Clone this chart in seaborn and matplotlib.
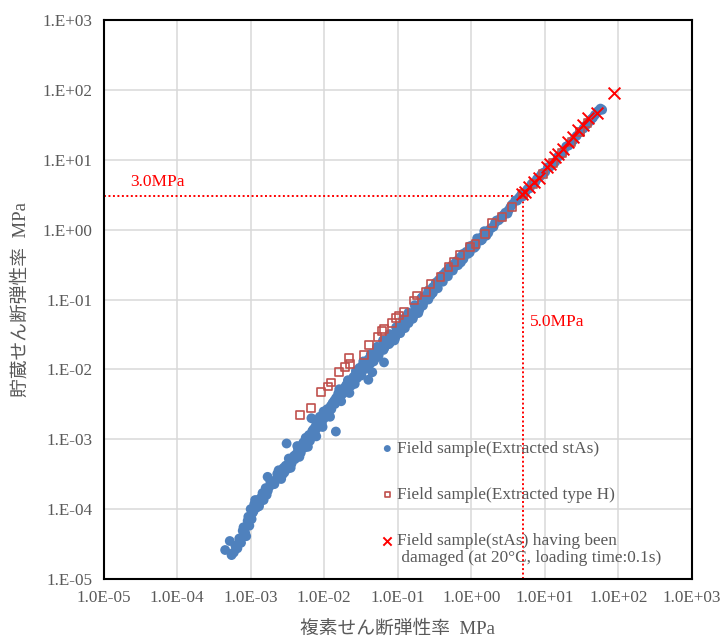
import numpy as np
import pandas as pd
import matplotlib
matplotlib.use("Agg")
import matplotlib.pyplot as plt
import seaborn as sns
from matplotlib.ticker import FixedLocator, FixedFormatter, NullLocator

# ---- data: complex shear modulus (x) vs storage shear modulus (y), MPa ----
stas_x = [4.5e-4, 5.2e-4, 5.5e-4, 5.9e-4, 6.6e-4, 7.8e-4, 8.7e-4, 8.0e-4, 9.1e-4, 9.6e-4,
          1.07e-3, 1.0e-3, 1.12e-3, 1.2e-3, 1.32e-3, 1.39e-3, 1.25e-3, 1.54e-3, 1.71e-3, 1.6e-3,
          1.7e-3, 2.1e-3, 2.33e-3, 2.0e-3, 2.87e-3, 2.6e-3, 3.36e-3, 3.08e-3, 3.0e-3, 3.4e-3,
          3.9e-3, 4.6e-3, 4.2e-3, 5.4e-3, 5.0e-3, 6.6e-3, 6.0e-3, 6.9e-3, 7.7e-3, 7.2e-3,
          6.7e-3, 9.0e-3, 8.3e-3, 1.05e-2, 9.8e-3, 1.23e-2, 1.44e-2, 1.37e-2, 1.3e-2, 1.68e-2,
          1.55e-2, 2.07e-2, 1.77e-2, 2.18e-2, 2.0e-2, 3.98e-2, 2.69e-2, 2.5e-2, 3.3e-2, 3.0e-2,
          4.5e-2, 4.0e-2, 4.5e-2, 5.6e-2, 5.0e-2, 6.9e-2, 6.5e-2, 6.2e-2, 8.4e-2, 7.5e-2,
          0.104, 0.095, 0.128, 0.115, 0.157, 0.145, 0.194, 0.128, 0.175, 0.215,
          0.265, 0.24, 0.327, 0.30, 0.40, 0.36, 0.49, 0.45, 0.61, 0.55,
          0.75, 0.70, 0.92, 0.85, 1.14, 1.05, 1.40, 1.30, 1.72, 1.26,
          2.35, 2.1, 3.21, 2.9, 3.96, 3.6, 5.41, 4.8, 7.4, 6.6,
          10.1, 9.0, 13.8, 12.5, 17.9, 16.0, 24.4, 22.0, 33.4, 30.0,
          42.8, 48.0, 53.0, 57.0,
          6.2e-4, 7.0e-4, 7.4e-4, 8.4e-4, 9.3e-4, 1.03e-3, 1.1e-3, 1.15e-3, 1.3e-3, 1.45e-3,
          1.5e-3, 1.65e-3, 1.8e-3, 1.85e-3, 2.2e-3, 2.3e-3, 2.5e-3, 2.7e-3, 2.8e-3,
          3.2e-3, 3.6e-3, 3.7e-3, 4.0e-3, 4.4e-3, 4.8e-3, 5.2e-3, 5.7e-3, 6.2e-3, 6.4e-3,
          7.0e-3, 7.5e-3, 7.9e-3, 8.0e-3, 8.7e-3, 9.3e-3, 1.0e-2, 1.1e-2, 1.15e-2,
          1.25e-2, 1.4e-2, 1.45e-2, 1.6e-2, 1.85e-2, 1.9e-2, 2.3e-2, 2.4e-2, 2.8e-2, 2.9e-2,
          3.5e-2, 3.7e-2, 4.2e-2, 4.8e-2, 5.3e-2, 5.8e-2, 6.6e-2, 7.2e-2, 7.8e-2, 8.8e-2,
          9.2e-2,
          0.11, 0.12, 0.135, 0.15, 0.165, 0.18, 0.20, 0.23, 0.25, 0.28,
          0.31, 0.34, 0.38, 0.42, 0.47, 0.52, 0.58, 0.65, 0.72, 0.80,
          0.90, 1.0, 1.1, 1.2, 1.35, 1.5, 1.6, 1.85, 2.0,
          2.2, 2.5, 2.7, 3.1, 3.4, 4.2, 4.5, 5.0, 5.8, 6.2,
          7.0, 7.8, 8.5, 9.5, 11.0, 11.8, 15.0, 19.5, 21.0, 27.0,
          36.0, 40.0, 45.0, 60.0,
          1.2e-2, 1.7e-2, 2.2e-2, 2.6e-2, 3.2e-2, 3.9e-2, 4.7e-2, 5.5e-2, 6.4e-2, 7.6e-2,
          9.0e-2, 0.108, 0.125, 0.14, 0.16, 0.19, 0.22, 0.26, 0.30, 0.35,
          0.41, 0.48, 0.56, 0.66, 0.78, 0.95, 1.15, 1.4, 1.7,
          1.6e-2, 2.1e-2, 2.7e-2, 3.4e-2, 4.3e-2, 5.2e-2, 6.3e-2, 7.7e-2, 9.5e-2, 0.118,
          0.14, 0.17, 0.21, 0.26, 0.33, 0.40, 0.50, 0.62, 0.77, 0.96,
          1.2, 1.5,
          2.4e-3, 3.3e-3, 4.3e-3, 5.6e-3, 2.6e-3, 3.5e-3, 4.6e-3, 6.0e-3, 7.8e-3, 9.5e-3]
stas_y = [2.6e-5, 3.5e-5, 2.2e-5, 2.4e-5, 2.75e-5, 4.9e-5, 4.1e-5, 5.5e-5, 6.8e-5, 5.8e-5,
          8.9e-5, 1.0e-4, 1.18e-4, 1.05e-4, 1.24e-4, 1.47e-4, 1.35e-4, 1.55e-4, 1.83e-4, 2.0e-4,
          2.9e-4, 2.28e-4, 2.83e-4, 2.5e-4, 3.34e-4, 3.6e-4, 4.0e-4, 8.7e-4, 4.2e-4, 4.9e-4,
          5.8e-4, 6.8e-4, 6.2e-4, 7.6e-4, 8.2e-4, 1.06e-3, 1.0e-3, 1.32e-3, 1.56e-3, 1.4e-3,
          2.0e-3, 1.95e-3, 1.8e-3, 2.3e-3, 2.5e-3, 3.0e-3, 1.29e-3, 3.56e-3, 3.3e-3, 4.2e-3,
          4.5e-3, 4.96e-3, 4.45e-3, 6.5e-3, 6.0e-3, 7.1e-3, 8.6e-3, 7.8e-3, 1.13e-2, 1.05e-2,
          1.49e-2, 1.4e-2, 9.1e-3, 1.86e-2, 1.7e-2, 2.32e-2, 1.26e-2, 2.2e-2, 2.88e-2, 2.7e-2,
          3.6e-2, 3.4e-2, 4.5e-2, 4.3e-2, 5.6e-2, 5.4e-2, 6.95e-2, 5.6e-2, 7.8e-2, 0.108,
          0.127, 0.10, 0.168, 0.15, 0.209, 0.19, 0.26, 0.25, 0.325, 0.31,
          0.38, 0.40, 0.50, 0.48, 0.63, 0.60, 0.78, 0.75, 0.975, 0.70,
          1.36, 1.25, 1.89, 1.75, 2.62, 2.3, 3.45, 3.2, 4.8, 4.5,
          6.7, 6.2, 9.3, 8.6, 13.0, 11.5, 19.0, 17.0, 28.0, 25.0,
          38.0, 44.0, 50.0, 54.0,
          3.0e-5, 3.8e-5, 3.3e-5, 4.6e-5, 7.8e-5, 7.2e-5, 9.5e-5, 1.35e-4, 1.1e-4, 1.7e-4,
          1.35e-4, 1.6e-4, 2.1e-4, 2.5e-4, 2.6e-4, 3.2e-4, 3.0e-4, 3.1e-4, 3.9e-4,
          3.8e-4, 4.5e-4, 5.4e-4, 5.2e-4, 7.4e-4, 6.4e-4, 9.0e-4, 8.5e-4, 1.15e-3, 9.5e-4,
          1.2e-3, 1.3e-3, 1.7e-3, 1.45e-3, 2.1e-3, 1.7e-3, 2.0e-3, 2.7e-3, 2.3e-3,
          2.7e-3, 3.2e-3, 3.9e-3, 3.7e-3, 4.8e-3, 5.5e-3, 5.8e-3, 7.0e-3, 7.5e-3, 9.3e-3,
          1.0e-2, 1.25e-2, 1.2e-2, 1.55e-2, 1.5e-2, 2.0e-2, 2.05e-2, 2.5e-2, 2.4e-2, 3.1e-2,
          2.8e-2,
          3.7e-2, 4.8e-2, 4.6e-2, 6.1e-2, 5.9e-2, 7.4e-2, 7.6e-2, 0.095, 0.118, 0.115,
          0.14, 0.155, 0.18, 0.23, 0.22, 0.28, 0.29, 0.36, 0.34, 0.44,
          0.45, 0.56, 0.55, 0.68, 0.70, 0.85, 0.82, 1.05, 1.1,
          1.35, 1.45, 1.6, 1.7, 2.1, 2.6, 2.9, 3.0, 3.8, 3.9,
          4.6, 5.3, 5.7, 6.5, 7.8, 8.0, 11.0, 15.5, 16.0, 22.0,
          31.0, 35.0, 40.0, 52.0,
          2.1e-3, 3.5e-3, 4.6e-3, 6.2e-3, 8.2e-3, 1.05e-2, 1.3e-2, 1.6e-2, 1.9e-2, 2.3e-2,
          2.6e-2, 3.3e-2, 3.9e-2, 4.6e-2, 5.3e-2, 6.4e-2, 8.2e-2, 0.10, 0.125, 0.145,
          0.18, 0.215, 0.26, 0.31, 0.38, 0.47, 0.58, 0.72, 0.90,
          5.2e-3, 7.0e-3, 9.5e-3, 1.3e-2, 1.65e-2, 2.1e-2, 2.6e-2, 3.2e-2, 4.0e-2, 5.2e-2,
          6.5e-2, 8.3e-2, 0.105, 0.135, 0.175, 0.22, 0.285, 0.35, 0.45, 0.58,
          0.75, 0.95,
          3.6e-4, 5.3e-4, 8.0e-4, 1.05e-3, 2.7e-4, 3.9e-4, 5.6e-4, 7.8e-4, 1.1e-3, 1.5e-3]

typeh_x = [4.7e-3, 6.6e-3, 9.0e-3, 1.13e-2, 1.23e-2, 1.6e-2, 1.9e-2, 2.25e-2, 2.18e-2, 3.5e-2,
           4.1e-2, 5.3e-2, 6.05e-2, 6.5e-2, 8.4e-2, 9.5e-2, 0.105, 0.121, 0.166, 0.184,
           0.239, 0.279, 0.381, 0.49, 0.578, 0.71, 0.97, 1.14, 1.52, 1.89,
           2.58, 3.53, 5.0, 7.0, 9.5, 13.0, 17.0, 23.0, 30.0, 38.0]
typeh_y = [2.2e-3, 2.8e-3, 4.8e-3, 5.7e-3, 6.5e-3, 9.1e-3, 1.07e-2, 1.2e-2, 1.46e-2, 1.61e-2,
           2.24e-2, 2.88e-2, 3.5e-2, 3.8e-2, 4.6e-2, 5.5e-2, 5.9e-2, 6.7e-2, 9.7e-2, 0.114,
           0.127, 0.168, 0.209, 0.29, 0.343, 0.43, 0.56, 0.63, 0.875, 1.23,
           1.5, 2.08, 3.2, 4.5, 6.3, 9.0, 12.5, 18.0, 25.0, 34.0]

damaged_x = [4.86, 5.41, 6.0, 7.0, 8.2, 10.6, 11.6, 13.8, 15.3, 17.9,
             20.9, 24.4, 28.5, 33.4, 39.0, 50.5, 87.0]
damaged_y = [3.27, 3.45, 4.07, 4.8, 5.4, 7.9, 8.8, 11.0, 12.0, 14.5,
             18.0, 21.2, 26.5, 31.2, 39.0, 46.0, 91.0]

series_labels = ["Field sample(Extracted stAs)",
                 "Field sample(Extracted type H)",
                 "Field sample(stAs) having been"]
series_label_cont = " damaged (at 20\u00b0C, loading time:0.1s)"

x_ticks = [1e-5, 1e-4, 1e-3, 1e-2, 1e-1, 1e0, 1e1, 1e2, 1e3]
x_tick_labels = ["1.0E-05", "1.0E-04", "1.0E-03", "1.0E-02", "1.0E-01",
                 "1.0E+00", "1.0E+01", "1.0E+02", "1.0E+03"]
y_ticks = [1e-5, 1e-4, 1e-3, 1e-2, 1e-1, 1e0, 1e1, 1e2, 1e3]
y_tick_labels = ["1.E-05", "1.E-04", "1.E-03", "1.E-02", "1.E-01",
                 "1.E+00", "1.E+01", "1.E+02", "1.E+03"]

ref_x = 5.0   # reference complex modulus, MPa
ref_y = 3.0   # reference storage modulus, MPa

x_label = "複素せん断弾性率  MPa"
y_label = "貯蔵せん断弾性率  MPa"

# ---- styling ----
sns.set_style("white")
plt.rcParams["font.family"] = ["Liberation Serif", "Noto Sans CJK JP"]
plt.rcParams["axes.unicode_minus"] = False

text_gray = "#595959"
blue = "#4F81BD"
brick = "#C0504D"

fig = plt.figure(figsize=(7.21, 6.36), dpi=100)
ax = fig.add_axes([0.1436, 0.0896, 0.8162, 0.8789])
ax.set_xscale("log")
ax.set_yscale("log")
ax.set_xlim(1e-5, 1e3)
ax.set_ylim(1e-5, 1e3)

df_stas = pd.DataFrame({"x": stas_x, "y": stas_y})
df_h = pd.DataFrame({"x": typeh_x, "y": typeh_y})
df_dmg = pd.DataFrame({"x": damaged_x, "y": damaged_y})

sns.scatterplot(data=df_stas, x="x", y="y", ax=ax, color=blue, marker="o",
                s=50, linewidth=0, edgecolor="none", label=series_labels[0], zorder=3)
sns.scatterplot(data=df_h, x="x", y="y", ax=ax, marker="s", s=32,
                facecolors="none", edgecolors=brick, linewidth=1.2,
                label=series_labels[1], zorder=4)
sns.scatterplot(data=df_dmg, x="x", y="y", ax=ax, marker="x", s=72, color="#FF0000",
                linewidth=1.4, label=series_labels[2], zorder=5)

# reference lines at 5.0 MPa / 3.0 MPa
ax.plot([1e-5, ref_x], [ref_y, ref_y], color="#FF0000", lw=1.4,
        linestyle=(0, (1, 1.3)), zorder=2)
ax.plot([ref_x, ref_x], [1e-5, ref_y], color="#FF0000", lw=1.4,
        linestyle=(0, (1, 1.3)), zorder=2)
ax.text(2.3e-5, ref_y * 1.25, "3.0MPa", color="#FF0000", fontsize=12.5,
        ha="left", va="bottom")
ax.text(ref_x * 1.25, 4.7e-2, "5.0MPa", color="#FF0000", fontsize=12.5,
        ha="left", va="center")

# axes, grid, ticks
ax.xaxis.set_major_locator(FixedLocator(x_ticks))
ax.xaxis.set_major_formatter(FixedFormatter(x_tick_labels))
ax.yaxis.set_major_locator(FixedLocator(y_ticks))
ax.yaxis.set_major_formatter(FixedFormatter(y_tick_labels))
ax.xaxis.set_minor_locator(NullLocator())
ax.yaxis.set_minor_locator(NullLocator())
ax.grid(True, color="#D9D9D9", lw=1.1, zorder=0)
ax.set_axisbelow(True)
ax.tick_params(axis="both", length=0, labelsize=12.3, labelcolor=text_gray, pad=8)
for sp in ax.spines.values():
    sp.set_color("black")
    sp.set_linewidth(1.5)
    sp.set_visible(True)

ax.set_xlabel(x_label, fontsize=13.5, color=text_gray, labelpad=10)
ax.set_ylabel(y_label, fontsize=13.5, color=text_gray, labelpad=9)

leg = ax.legend(loc="upper left", bbox_to_anchor=(383 / 721, 1 - 441 / 636),
                bbox_transform=fig.transFigure, frameon=False, fontsize=12.4,
                labelspacing=1.75, handlelength=0.5, handletextpad=0.3,
                borderpad=0, borderaxespad=0, markerscale=0.7)
for t in leg.get_texts():
    t.set_color(text_gray)

# second line of the third legend entry
fig.canvas.draw()
renderer = fig.canvas.get_renderer()
last = leg.get_texts()[-1]
bb = last.get_window_extent(renderer)
fig.text(bb.x0 / fig.bbox.width, (bb.y0 - 1) / fig.bbox.height, series_label_cont,
         fontsize=12.4, color=text_gray, ha="left", va="top")

fig.savefig("out.png", dpi=100)
